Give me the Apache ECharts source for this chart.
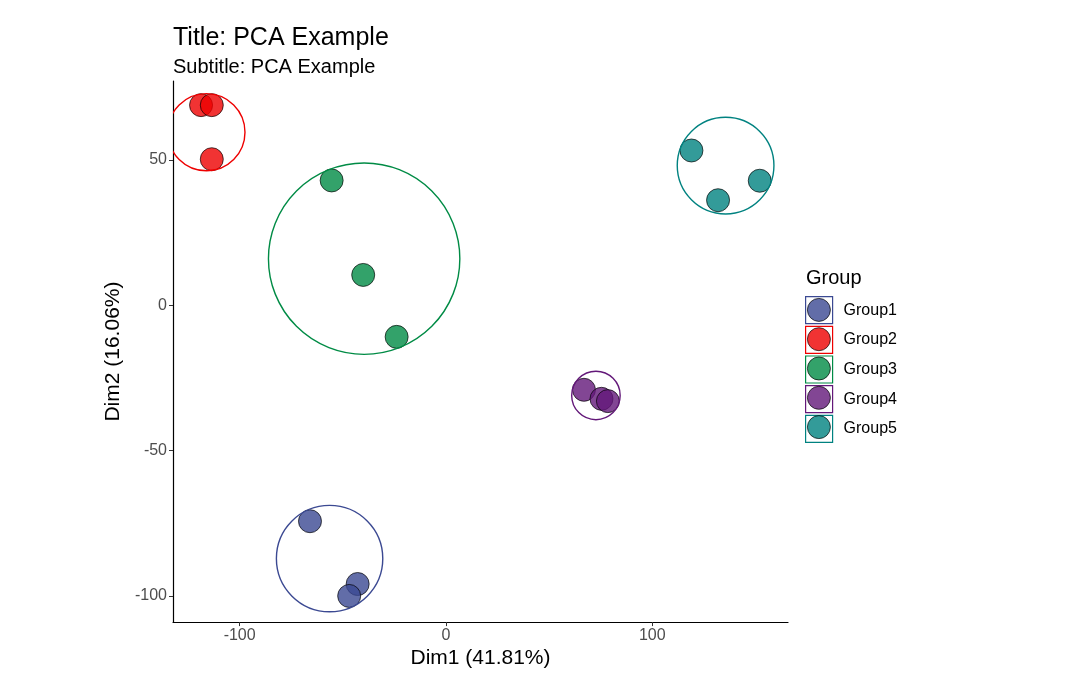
<!DOCTYPE html>
<html><head><meta charset="utf-8">
<script src="https://cdn.jsdelivr.net/npm/echarts@6/dist/echarts.min.js"></script>
<style>html,body{margin:0;padding:0;background:#fff}#c{width:1083px;height:674px}</style>
</head><body><div id="c"></div>
<script>
const groups = ['Group1', 'Group2', 'Group3', 'Group4', 'Group5'];
const group1 = [[-65.9, -74.3], [-42.8, -95.9], [-46.9, -100.0]];
const group2 = [[-118.7, 68.8], [-113.5, 68.8], [-113.5, 50.2]];
const group3 = [[-55.4, 42.9], [-40.1, 10.4], [-23.9, -10.9]];
const group4 = [[66.9, -29.1], [75.4, -32.2], [78.5, -33.0]];
const group5 = [[119.0, 53.2], [131.9, 36.1], [152.1, 42.8]];
const groupData = [group1, group2, group3, group4, group5];
const xTicks = [-100, 0, 100];
const yTicks = [-100, -50, 0, 50];

const colors = ['#3B4992', '#EE0000', '#008B45', '#631879', '#008280'];
const fills = ['rgba(59,73,146,0.8)', 'rgba(238,0,0,0.8)', 'rgba(0,139,69,0.8)', 'rgba(99,24,121,0.8)', 'rgba(0,130,128,0.8)'];
const EXPAND = 11;
const FONT = '"Liberation Sans", Arial, sans-serif';

function minEnclosingCircle(pts) {
  let best = null;
  const ok = c => pts.every(p => Math.hypot(p[0] - c.x, p[1] - c.y) <= c.r + 1e-6);
  if (pts.length === 1) return {x: pts[0][0], y: pts[0][1], r: 0};
  for (let i = 0; i < pts.length; i++) for (let j = i + 1; j < pts.length; j++) {
    const c = {x: (pts[i][0] + pts[j][0]) / 2, y: (pts[i][1] + pts[j][1]) / 2,
      r: Math.hypot(pts[i][0] - pts[j][0], pts[i][1] - pts[j][1]) / 2};
    if (ok(c) && (!best || c.r < best.r)) best = c;
  }
  for (let i = 0; i < pts.length; i++) for (let j = i + 1; j < pts.length; j++) for (let k = j + 1; k < pts.length; k++) {
    const [ax, ay] = pts[i], [bx, by] = pts[j], [cx, cy] = pts[k];
    const d = 2 * (ax * (by - cy) + bx * (cy - ay) + cx * (ay - by));
    if (Math.abs(d) < 1e-9) continue;
    const ux = ((ax * ax + ay * ay) * (by - cy) + (bx * bx + by * by) * (cy - ay) + (cx * cx + cy * cy) * (ay - by)) / d;
    const uy = ((ax * ax + ay * ay) * (cx - bx) + (bx * bx + by * by) * (ax - cx) + (cx * cx + cy * cy) * (bx - ax)) / d;
    const c = {x: ux, y: uy, r: Math.hypot(ax - ux, ay - uy)};
    if (ok(c) && (!best || c.r < best.r)) best = c;
  }
  return best;
}

const series = [];
groups.forEach((g, i) => {
  series.push({
    name: g, type: 'custom', z: 3, silent: true,
    data: [groupData[i][0]],
    renderItem: (params, api) => {
      const pix = groupData[i].map(p => api.coord(p));
      const c = minEnclosingCircle(pix);
      const cs = params.coordSys;
      return {
        type: 'circle',
        shape: {cx: c.x, cy: c.y, r: c.r + EXPAND},
        style: {fill: 'none', stroke: colors[i], lineWidth: 1.4},
        clipPath: {type: 'rect', shape: {x: cs.x, y: cs.y, width: cs.width, height: cs.height}}
      };
    }
  });
});
groups.forEach((g, i) => {
  series.push({
    name: g, type: 'scatter', z: 2, symbolSize: 23,
    itemStyle: {color: fills[i], borderColor: 'rgba(0,0,0,0.85)', borderWidth: 0.8, opacity: 1},
    emphasis: {disabled: true},
    data: groupData[i]
  });
});

const chart = echarts.init(document.getElementById('c'), null, {renderer: 'canvas'});
chart.setOption({
  animation: false,
  backgroundColor: '#ffffff',
  title: [
    {text: 'Title: PCA Example', subtext: 'Subtitle: PCA Example', left: 168, top: 21, itemGap: 6,
      textStyle: {fontFamily: FONT, fontSize: 25, fontWeight: 'normal', color: '#000'},
      subtextStyle: {fontFamily: FONT, fontSize: 20, color: '#000'}},
    {text: 'Group', left: 801, top: 263,
      textStyle: {fontFamily: FONT, fontSize: 20, fontWeight: 'normal', color: '#000'}}
  ],
  grid: {left: 173, right: 295, top: 81, bottom: 48, containLabel: false},
  xAxis: {
    type: 'value', min: -132.3, max: 165.8,
    name: 'Dim1 (41.81%)', nameLocation: 'middle', nameGap: 23,
    nameTextStyle: {fontFamily: FONT, fontSize: 21, color: '#000'},
    axisLine: {onZero: false, lineStyle: {color: '#000', width: 1.2}},
    axisTick: {show: true, length: 4, customValues: xTicks, lineStyle: {color: '#333'}},
    axisLabel: {customValues: xTicks, fontFamily: FONT, fontSize: 16, color: '#4D4D4D', margin: 5},
    splitLine: {show: false}
  },
  yAxis: {
    type: 'value', min: -109.0, max: 77.1,
    name: 'Dim2 (16.06%)', nameLocation: 'middle', nameGap: 37,
    nameTextStyle: {fontFamily: FONT, fontSize: 21, color: '#000'},
    axisLine: {onZero: false, lineStyle: {color: '#000', width: 1.2}},
    axisTick: {show: true, length: 4, customValues: yTicks, lineStyle: {color: '#333'}},
    axisLabel: {customValues: yTicks, fontFamily: FONT, fontSize: 16, color: '#4D4D4D', margin: 6},
    splitLine: {show: false}
  },
  legend: [
    {orient: 'vertical', left: 805, top: 296, padding: 0, icon: 'rect',
      itemWidth: 27, itemHeight: 27, itemGap: 1.5, selectedMode: false,
      textStyle: {fontFamily: FONT, fontSize: 16, color: '#000', padding: [0, 0, 0, 6]},
      data: groups.map((g, i) => ({name: g, itemStyle: {color: '#fff', borderColor: colors[i], borderWidth: 1.2}}))},
    {orient: 'vertical', left: 807, top: 298, padding: 0, icon: 'circle', z: 6,
      itemWidth: 23, itemHeight: 23, itemGap: 5.5, selectedMode: false,
      textStyle: {fontFamily: FONT, fontSize: 16, color: 'rgba(0,0,0,0)'},
      data: groups.map((g, i) => ({name: g, itemStyle: {color: fills[i], borderColor: 'rgba(0,0,0,0.85)', borderWidth: 0.8}}))}
  ],
  series: series
});
</script>
</body></html>
